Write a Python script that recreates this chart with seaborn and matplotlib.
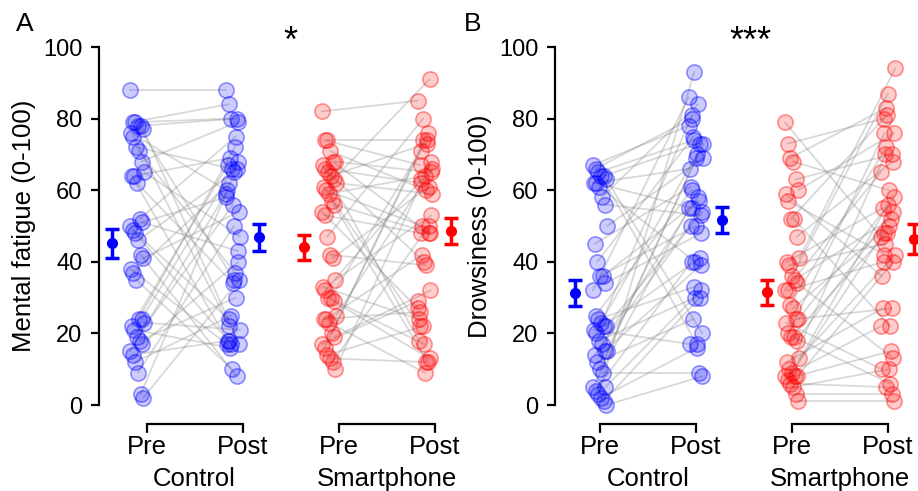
import numpy as np
import pandas as pd
import matplotlib
matplotlib.use("Agg")
import matplotlib.pyplot as plt
import seaborn as sns

# ---------------- data (0-100 ratings, paired pre/post per subject) ----------------
fatigue_ctrl_pre = [88, 79, 79, 78, 78, 77, 76, 75, 72, 71, 68, 65, 64, 64, 62, 52, 51, 50, 49, 48,
                    46, 42, 41, 38, 37, 35, 24, 24, 23, 22, 21, 19, 18, 17, 15, 14, 12, 9, 3, 2]
fatigue_ctrl_post = [88, 84, 80, 35, 80, 17, 60, 22, 66, 37, 79, 47, 18, 69, 34, 75, 43, 58, 24, 17,
                     65, 8, 54, 17, 62, 10, 72, 68, 21, 67, 16, 56, 30, 40, 59, 18, 25, 50, 66, 35]
fatigue_phone_pre = [82, 74, 74, 71, 68, 68, 67, 66, 65, 64, 63, 62, 61, 60, 59, 57, 56, 54, 53, 47,
                     42, 41, 35, 33, 32, 30, 30, 29, 25, 24, 24, 23, 20, 19, 17, 16, 14, 13, 12, 10]
fatigue_phone_post = [85, 67, 74, 60, 48, 65, 18, 62, 40, 73, 91, 59, 22, 50, 64, 12, 48, 27, 48, 80,
                      39, 61, 53, 24, 63, 17, 74, 13, 66, 26, 42, 9, 76, 32, 29, 71, 22, 12, 50, 68]

drowsy_ctrl_pre = [67, 66, 65, 64, 64, 63, 62, 62, 61, 58, 56, 50, 45, 40, 36, 36, 34, 32, 25, 24,
                   23, 22, 22, 21, 20, 18, 17, 15, 15, 14, 12, 10, 9, 5, 5, 4, 3, 2, 1, 0]
drowsy_ctrl_post = [78, 80, 74, 17, 73, 20, 66, 55, 40, 84, 53, 69, 61, 75, 50, 57, 48, 86, 60, 33,
                    70, 41, 54, 17, 81, 30, 58, 39, 73, 50, 24, 69, 9, 32, 55, 40, 93, 16, 30, 8]
drowsy_phone_pre = [79, 73, 69, 68, 63, 60, 59, 57, 52, 52, 47, 41, 40, 39, 36, 35, 34, 32, 32, 28,
                    27, 24, 24, 23, 20, 19, 19, 18, 13, 12, 10, 9, 8, 8, 8, 7, 6, 5, 3, 1]
drowsy_phone_post = [47, 80, 83, 60, 70, 76, 36, 42, 81, 22, 68, 94, 55, 45, 87, 52, 13, 65, 40, 72,
                     50, 27, 58, 10, 76, 48, 6, 54, 42, 27, 70, 56, 15, 40, 22, 48, 5, 10, 3, 1]

groups = ["Control", "Smartphone"]
times = ["Pre", "Post"]
ylabels = ["Mental fatigue (0-100)", "Drowsiness (0-100)"]
panel_letters = ["A", "B"]
sig_marks = ["*", "***"]
yticks = [0, 20, 40, 60, 80, 100]

# ---------------- style ----------------
sns.set_theme(style="ticks")
plt.rcParams["font.family"] = ["Liberation Sans", "DejaVu Sans"]
plt.rcParams["text.color"] = "black"
plt.rcParams["axes.labelcolor"] = "black"
plt.rcParams["xtick.color"] = "black"
plt.rcParams["ytick.color"] = "black"
FS_TICK = 17
FS_LAB = 18.5
colors = {"Control": (0.0, 0.0, 1.0), "Smartphone": (1.0, 0.0, 0.0)}

W, H = 918, 491
fig = plt.figure(figsize=(W / 100, H / 100), dpi=100)

def px_axes(x0, x1, y_top=47, y_bot=405):
    return fig.add_axes([x0 / W, 1 - y_bot / H, (x1 - x0) / W, (y_bot - y_top) / H])

# base x positions (category slots) and layout offsets
slot = {("Control", "Pre"): 0.0, ("Control", "Post"): 1.0,
        ("Smartphone", "Pre"): 2.0, ("Smartphone", "Post"): 3.0}
n = 40
jit = (((np.arange(n) * 37) % 17) - 8) / 8 * 0.075

panels = [
    dict(data={"Control": (fatigue_ctrl_pre, fatigue_ctrl_post),
               "Smartphone": (fatigue_phone_pre, fatigue_phone_post)},
         ax_px=(99, 463), x0px=137, tick_off=0.1),
    dict(data={"Control": (drowsy_ctrl_pre, drowsy_ctrl_post),
               "Smartphone": (drowsy_phone_pre, drowsy_phone_post)},
         ax_px=(555, 916), x0px=600, tick_off=0.0),
]

UNIT = 96.0
for p_i, P in enumerate(panels):
    x0, x1 = P["ax_px"]
    ax = px_axes(x0, x1)
    ax.set_xlim((x0 - P["x0px"]) / UNIT, (x1 - P["x0px"]) / UNIT)
    ax.set_ylim(0, 100)

    rows = []
    for g in groups:
        pre, post = P["data"][g]
        for i in range(len(pre)):
            for t, v in zip(times, (pre[i], post[i])):
                rows.append(dict(sid=f"{g}{i}", group=g, time=t, value=v,
                                 x=slot[(g, t)] + jit[i]))
    df = pd.DataFrame(rows)

    # paired lines
    sns.lineplot(data=df, x="x", y="value", units="sid", estimator=None,
                 color="0.5", alpha=0.3, lw=1.3, ax=ax, legend=False, sort=False)
    for ln in ax.lines:
        ln.set_clip_on(False)

    # points
    for g in groups:
        sub = df[df.group == g]
        n_before = len(ax.collections)
        sns.scatterplot(data=sub, x="x", y="value", color=colors[g], s=120,
                        ax=ax, legend=False, zorder=3)
        coll = ax.collections[n_before]
        coll.set_facecolor(colors[g] + (0.2,))
        coll.set_edgecolor(colors[g] + (0.4,))
        coll.set_linewidth(1.2)
        coll.set_clip_on(False)

    # mean +- SEM
    for g in groups:
        for t, off in (("Pre", -0.265), ("Post", 0.275)):
            vals = np.asarray(df[(df.group == g) & (df.time == t)].value, float)
            m = vals.mean()
            se = vals.std(ddof=1) / np.sqrt(len(vals))
            eb = ax.errorbar(slot[(g, t)] + off, m, yerr=se, fmt="o", color=colors[g],
                             ms=7, capsize=5, capthick=2.5, elinewidth=2.5, zorder=5,
                             clip_on=False)
            for art in eb.lines[1] + eb.lines[2]:
                art.set_clip_on(False)

    # axes styling
    sns.despine(ax=ax, bottom=True)
    ax.spines["left"].set_linewidth(1.6)
    ax.spines["left"].set_color("black")
    ax.spines["left"].set_bounds(0, 100)
    ax.set_yticks(yticks)
    ax.set_yticklabels([str(v) for v in yticks], fontsize=FS_TICK)
    ax.tick_params(axis="y", length=6, width=1.6, pad=6, color="black", labelcolor="black")
    ax.set_xticks([])
    ax.set_xlabel("")
    ax.set_ylabel(ylabels[p_i], fontsize=FS_LAB, labelpad=5, color="black")
    ax.patch.set_alpha(0)

    # brackets and category labels
    to = P["tick_off"]
    for g in groups:
        xa = slot[(g, "Pre")] + to
        xb = slot[(g, "Post")] + to
        ax.plot([xa, xa, xb, xb], [-7.6, -5.3, -5.3, -7.6], color="black", lw=1.6,
                clip_on=False, solid_joinstyle="miter")
        ax.text(xa, -11.8, "Pre", ha="center", va="center", fontsize=FS_LAB)
        ax.text(xb, -11.8, "Post", ha="center", va="center", fontsize=FS_LAB)
        ax.text((xa + xb) / 2, -20.6, g, ha="center", va="center", fontsize=FS_LAB)

panel_letter_px = [(25, 24), (473, 24)]
sig_px = [(290, 42), (750, 42)]
for (lx, ly), L in zip(panel_letter_px, panel_letters):
    fig.text(lx / W, 1 - ly / H, L, ha="center", va="center", fontsize=19)
for (sx, sy), s in zip(sig_px, sig_marks):
    fig.text(sx / W, 1 - sy / H, s, ha="center", va="center", fontsize=26)

fig.savefig("out.png", dpi=100)
